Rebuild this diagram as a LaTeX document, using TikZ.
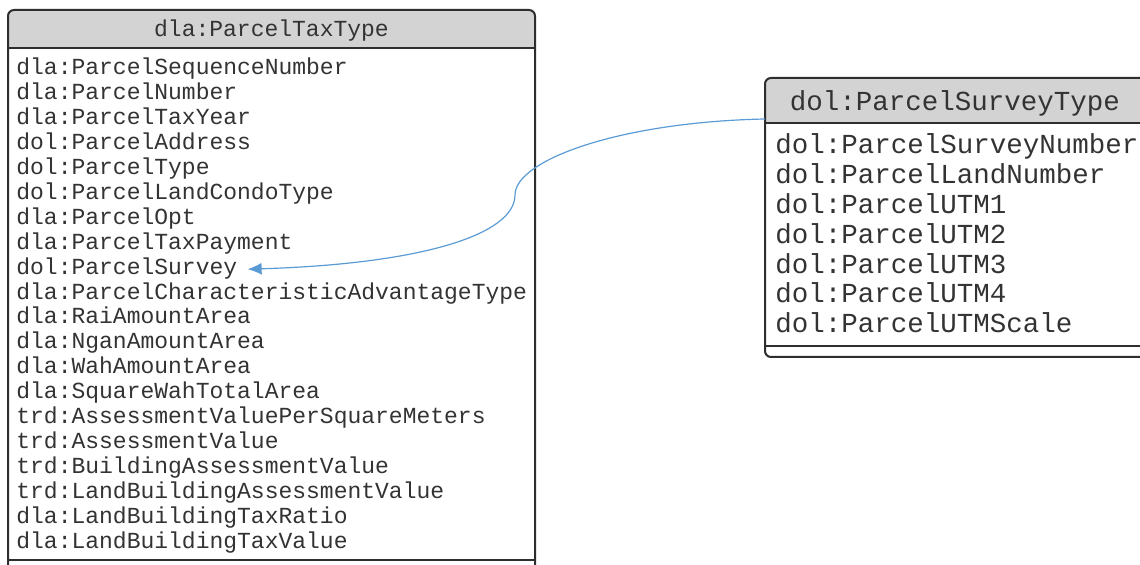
\documentclass[tikz,border=0pt]{standalone}
\usepackage{fontspec}
\setmonofont{Liberation Mono}
\usepackage{xcolor}
\usepackage{tikz}
\usetikzlibrary{positioning,arrows.meta}

\definecolor{hdrgray}{HTML}{D3D3D3}
\definecolor{framegray}{HTML}{2E2E2E}
\definecolor{linkblue}{HTML}{5B9BD5}

\begin{document}
\begin{tikzpicture}[x=0.5pt,y=-0.5pt,
    frame/.style={draw=framegray,line width=1pt},
    taxfont/.style={font=\ttfamily\fontsize{11.5}{13}\selectfont,text=black!80,
      text height=7pt,text depth=2pt},
    surveyfont/.style={font=\ttfamily\fontsize{13.75}{16}\selectfont,text=black!80,
      text height=8.5pt,text depth=2.5pt},
    taxrow/.style={taxfont,anchor=west,inner xsep=5pt,inner ysep=1pt},
    surveyrow/.style={surveyfont,anchor=west,inner xsep=5pt,inner ysep=1pt},
    link/.style={draw=linkblue,line width=0.6pt,-{Latex[length=7pt,width=6pt]}}]
    \useasboundingbox (0,0) rectangle (1140,565);
    \clip (0,0) rectangle (1140,565);
    % ParcelTaxType box
    \fill[hdrgray,rounded corners=3pt] (8,10) rectangle (535,48);
    \fill[hdrgray] (8,30) rectangle (535,48);
    \draw[frame,rounded corners=3pt] (8,10) rectangle (535,620);
    \draw[frame] (8,48) -- (535,48);
    \draw[frame] (8,560) -- (535,560);
    \node[taxfont] (taxhead) at (271.5,32) {dla:ParcelTaxType};
    \foreach \field [count=\i] in {dla:ParcelSequenceNumber, dla:ParcelNumber,
        dla:ParcelTaxYear, dol:ParcelAddress, dol:ParcelType,
        dol:ParcelLandCondoType, dla:ParcelOpt, dla:ParcelTaxPayment,
        dol:ParcelSurvey, dla:ParcelCharacteristicAdvantageType,
        dla:RaiAmountArea, dla:NganAmountArea, dla:WahAmountArea,
        dla:SquareWahTotalArea, trd:AssessmentValuePerSquareMeters,
        trd:AssessmentValue, trd:BuildingAssessmentValue,
        trd:LandBuildingAssessmentValue, dla:LandBuildingTaxRatio,
        dla:LandBuildingTaxValue}
      \node[taxrow] (tax\i) at (6,{70+24.9*(\i-1)}) {\field};
    % ParcelSurveyType box
    \fill[hdrgray,rounded corners=3pt] (765,78) rectangle (1146,123);
    \fill[hdrgray] (765,100) rectangle (1146,123);
    \draw[frame,rounded corners=3pt] (765,78) rectangle (1146,357);
    \draw[frame] (765,123) -- (1146,123);
    \draw[frame] (765,346) -- (1146,346);
    \node[surveyfont] (surveyhead) at (955,105) {dol:ParcelSurveyType};
    \foreach \field [count=\i] in {dol:ParcelSurveyNumber, dol:ParcelLandNumber,
        dol:ParcelUTM1, dol:ParcelUTM2, dol:ParcelUTM3, dol:ParcelUTM4,
        dol:ParcelUTMScale}
      \node[surveyrow] (survey\i) at (765,{148+29.8*(\i-1)}) {\field};
    % Link
    \coordinate (survey-in) at (765,119);
    \draw[link] (survey-in) .. controls (620,122) and (515,160) .. (515,195)
      .. controls (515,235) and (420,264) .. (tax9.east);
  \end{tikzpicture}
\end{document}
